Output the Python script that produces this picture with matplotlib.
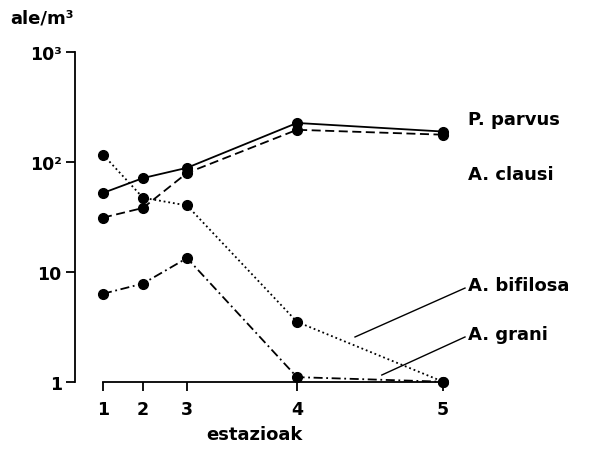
import numpy as np
import matplotlib.pyplot as plt
from matplotlib.ticker import FixedLocator, FixedFormatter

# stations along the estuary (relative distance from station 1)
stations = ['1', '2', '3', '4', '5']
station_x = [1.0, 2.0, 3.1, 5.85, 9.5]

# abundance, individuals per m3
p_parvus = [52, 71, 88, 225, 188]
a_clausi = [31, 38, 79, 195, 176]
a_bifilosa = [116, 47, 40, 3.5, 1]
a_grani = [6.3, 7.8, 13.3, 1.1, 1]

species = ['P. parvus', 'A. clausi', 'A. bifilosa', 'A. grani']
series = [p_parvus, a_clausi, a_bifilosa, a_grani]
styles = ['-', (0, (5, 2.5)), (0, (1, 1.6)), (0, (5, 2, 1, 2))]

fig = plt.figure(figsize=(5.89, 4.52), dpi=100)
ax = fig.add_axes([75/589, 1 - 382.7/452, 368/589, 330/452])

for vals, ls in zip(series, styles):
    ax.plot(station_x, vals, color='black', lw=1.3, ls=ls,
            marker='o', ms=7, clip_on=False, zorder=3)

ax.set_yscale('log')
ax.set_ylim(1, 1000)
ax.set_xlim(0.3, 9.5)

ax.spines['top'].set_visible(False)
ax.spines['right'].set_visible(False)
ax.spines['bottom'].set_bounds(station_x[0], station_x[-1])
for s in ('left', 'bottom'):
    ax.spines[s].set_linewidth(1.3)

ax.yaxis.set_major_locator(FixedLocator([1, 10, 100, 1000]))
ax.yaxis.set_major_formatter(FixedFormatter(['1', '10', '10²', '10³']))
ax.yaxis.set_minor_locator(FixedLocator([]))
ax.set_xticks(station_x)
ax.set_xticklabels(stations)
ax.tick_params(axis='both', direction='out', length=6.5, width=1.3,
               labelsize=12.5)
ax.tick_params(axis='x', pad=7)
ax.tick_params(axis='y', pad=3)
for lab in ax.get_xticklabels() + ax.get_yticklabels():
    lab.set_fontweight('bold')

ax.text(-0.177, 1.105, 'ale/m³', transform=ax.transAxes, fontsize=13,
        fontweight='bold', ha='left', va='center')
ax.text(0.487, -0.16, 'estazioak', transform=ax.transAxes, fontsize=13,
        fontweight='bold', ha='center', va='center')

# species names on the right, two with leader lines
label_y = [243, 77, 7.5, 2.7]
for name, ly in zip(species, label_y):
    ax.text(10.12, ly, name, fontsize=13, fontweight='bold',
            ha='left', va='center', clip_on=False)
ax.plot([7.3, 10.05], [2.55, 7.1], color='black', lw=1.0, clip_on=False)
ax.plot([7.97, 10.05], [1.15, 2.55], color='black', lw=1.0, clip_on=False)

fig.savefig('out.png', dpi=100)
